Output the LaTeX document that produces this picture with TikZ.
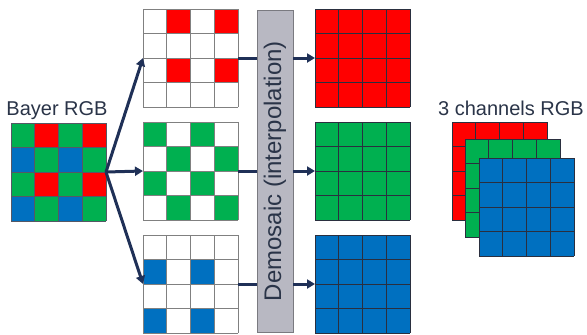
\documentclass[tikz,border=0pt]{standalone}
\usepackage{fontspec}
\setmainfont{Liberation Sans}
\usetikzlibrary{arrows.meta,calc}
\definecolor{cR}{HTML}{FF0000}
\definecolor{cG}{HTML}{00B050}
\definecolor{cB}{HTML}{0070C0}
\definecolor{navy}{HTML}{1F3057}
\definecolor{txt}{HTML}{2A3448}
\definecolor{barfill}{HTML}{B8B8C2}
\definecolor{barline}{HTML}{7A7A80}
\definecolor{lightline}{HTML}{808080}
\definecolor{darkline}{HTML}{2A2F3F}
\tikzset{
  gridbox/.style={rectangle,minimum width=95pt,minimum height=98pt,inner sep=0pt,outer sep=0pt},
  conn/.style={draw=navy,line width=3pt},
  connarrow/.style={conn,-{Triangle[length=8pt,width=9pt]}},
  lbl/.style={font=\fontsize{20}{24}\selectfont,text=txt,inner sep=0pt},
}
% grid lines: x0, y0, colour, cell height
\newcommand\drawgridlines[3]{%
  \foreach \i in {0,...,4} {%
    \draw[#3,line width=0.8pt] ({#1+\i*23.75},{#2}) -- ++(0,98);
    \draw[#3,line width=0.8pt] ({#1},{#2+\i*24.5}) -- ++(95,0);
  }}
% cell fill: x0, y0, col, row, colour
\newcommand\cellfill[5]{\fill[#5] ({#1+#3*23.75},{#2+#4*24.5}) rectangle ++(23.75,24.5);}
\newcommand\fullgrid[3]{\fill[#3] (#1,#2) rectangle ++(95,98); \drawgridlines{#1}{#2}{darkline}}
\begin{document}
\begin{tikzpicture}[x=1pt,y=-1pt]
\useasboundingbox (0,0) rectangle (587,335);
\fill[white] (0,0) rectangle (587,335);

% ---- Bayer mosaic ----
\foreach \c/\r/\col in {0/0/cG,1/0/cR,2/0/cG,3/0/cR,
                        0/1/cB,1/1/cG,2/1/cB,3/1/cG,
                        0/2/cG,1/2/cR,2/2/cG,3/2/cR,
                        0/3/cB,1/3/cG,2/3/cB,3/3/cG}
  {\cellfill{11}{123}{\c}{\r}{\col}}
\drawgridlines{11}{123}{darkline!80}
\node[gridbox] (bayer) at (58.5,172) {};
\node[lbl,anchor=base] (bayerlbl) at (57,115) {Bayer RGB};

% ---- separated channels ----
\foreach \c/\r in {1/0,3/0,1/2,3/2} {\cellfill{143}{9}{\c}{\r}{cR}}
\drawgridlines{143}{9}{lightline}
\node[gridbox] (rin) at (190.5,58) {};

\foreach \c/\r in {0/0,2/0,1/1,3/1,0/2,2/2,1/3,3/3} {\cellfill{143}{122}{\c}{\r}{cG}}
\drawgridlines{143}{122}{lightline}
\node[gridbox] (gin) at (190.5,171) {};

\foreach \c/\r in {0/1,2/1,0/3,2/3} {\cellfill{143}{235}{\c}{\r}{cB}}
\drawgridlines{143}{235}{lightline}
\node[gridbox] (bin) at (190.5,284) {};

% ---- demosaic bar ----
\node[draw=barline,fill=barfill,line width=0.8pt,minimum width=36pt,minimum height=322pt,inner sep=0pt] (bar) at (275,171) {};
\node[rotate=90,font=\fontsize{24}{28}\selectfont,text=txt,inner sep=0pt] (bartext) at (bar.center) {Demosaic (interpolation)};

% ---- interpolated outputs ----
\fullgrid{315}{9}{cR}
\node[gridbox] (rout) at (362.5,58) {};
\fullgrid{315}{122}{cG}
\node[gridbox] (gout) at (362.5,171) {};
\fullgrid{315}{235}{cB}
\node[gridbox] (bout) at (362.5,284) {};

% ---- stacked channels ----
\node[lbl,anchor=base] (chlbl) at (511,115) {3 channels RGB};
\fullgrid{452}{122}{cR}
\node[gridbox] (rst) at (499.5,171) {};
\fullgrid{465}{139}{cG}
\node[gridbox] (gst) at (512.5,188) {};
\fullgrid{479}{158}{cB}
\node[gridbox] (bst) at (526.5,207) {};

% ---- connectors ----
\draw[connarrow] (bayer.east) -- (rin.west);
\draw[connarrow] (bayer.east) -- (gin.west);
\draw[connarrow] (bayer.east) -- (bin.west);
\foreach \a/\b in {rin/rout,gin/gout,bin/bout} {
  \draw[conn] (\a.east) -- (\a.east -| bar.west);
  \draw[connarrow] (\a.east -| bar.east) -- (\b.west);
}
\end{tikzpicture}
\end{document}
